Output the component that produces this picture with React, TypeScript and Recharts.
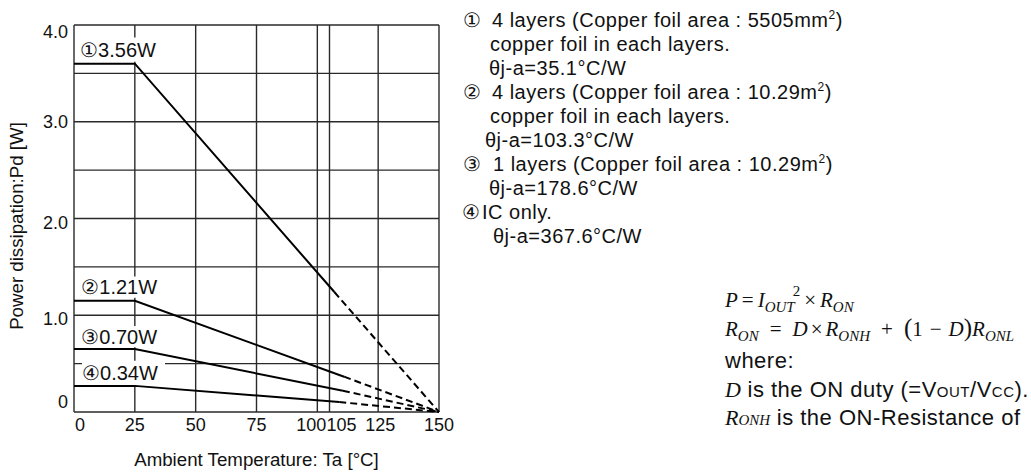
import React from "react";
import {
  LineChart,
  Line,
  XAxis,
  YAxis,
  CartesianGrid,
  ReferenceArea,
} from "recharts";

const taTicks = [0, 25, 50, 75, 100, 105, 125, 150];
const pdTicks = [0, 0.5, 1, 1.5, 2, 2.5, 3, 3.5, 4];
const pdLevels = [3.6, 1.15, 0.65, 0.27];
const kneeTa = 25;
const solidEndTa = [107, 111, 110.5, 109];
const solidEndPd = [1.24, 0.365, 0.22, 0.103];
const zeroTa = 150;
const powerLabels = ["\u24603.56W", "\u24611.21W", "\u24620.70W", "\u24630.34W"];
// white label boxes in data units [x1, x2, y1, y2]
const labelBoxes = [
  [2.5, 33, 3.62, 3.87],
  [3, 34, 1.18, 1.4],
  [3, 34, 0.67, 0.89],
  [3.3, 37.4, 0.28, 0.53],
];

const solidData = pdLevels.map((pd, i) => [
  { ta: 0, pd },
  { ta: kneeTa, pd },
  { ta: solidEndTa[i], pd: solidEndPd[i] },
]);
const dashedData = pdLevels.map((_, i) => [
  { ta: solidEndTa[i], pd: solidEndPd[i] },
  { ta: zeroTa, pd: 0 },
]);

const SANS = "'Liberation Sans', Arial, Helvetica, sans-serif";
const SERIF = "'Liberation Serif', 'Times New Roman', serif";

const xShift: Record<number, number> = { 0: 6, 100: -6, 105: 12, 125: 2 };
const yShift: Record<number, number> = { 4: 7, 3: 0, 2: 4, 1: 4, 0: -10 };

function XTick({ x, y, payload }: any) {
  const v = payload.value as number;
  return (
    <text
      x={x + (xShift[v] ?? 0)}
      y={y + 13}
      textAnchor="middle"
      dominantBaseline="central"
      fontSize={18}
      fontFamily={SANS}
      fill="#111"
    >
      {v}
    </text>
  );
}

function YTick({ x, y, payload }: any) {
  const v = payload.value as number;
  if (v % 1 !== 0) return null;
  return (
    <text
      x={x - 6}
      y={y + (yShift[v] ?? 0)}
      textAnchor="end"
      dominantBaseline="central"
      fontSize={18}
      fontFamily={SANS}
      fill="#111"
    >
      {v === 0 ? "0" : v.toFixed(1)}
    </text>
  );
}

const noteStyle: React.CSSProperties = {
  position: "absolute",
  fontFamily: SANS,
  fontSize: 20,
  letterSpacing: 0.5,
  lineHeight: "24px",
  color: "#111",
  whiteSpace: "nowrap",
};

const sup2 = <span style={{ fontSize: 12, position: "relative", top: -8 }}>2</span>;
const mark = (c: string, w: number) => (
  <span style={{ display: "inline-block", width: w }}>{c}</span>
);

const notes: [number, number, React.ReactNode][] = [
  [463, 8, <>{mark("\u2460", 29)}4 layers (Copper foil area : 5505mm{sup2})</>],
  [490, 32, "copper foil in each layers."],
  [489, 56, "\u03b8j-a=35.1\u00b0C/W"],
  [463, 80, <>{mark("\u2461", 29)}4 layers (Copper foil area : 10.29m{sup2})</>],
  [490, 104, "copper foil in each layers."],
  [485, 128, "\u03b8j-a=103.3\u00b0C/W"],
  [463, 152, <>{mark("\u2462", 30)}1 layers (Copper foil area : 10.29m{sup2})</>],
  [489, 176, "\u03b8j-a=178.6\u00b0C/W"],
  [462, 200, <>{mark("\u2463", 20)}IC only.</>],
  [493, 224, "\u03b8j-a=367.6\u00b0C/W"],
];

const mathLine: React.CSSProperties = {
  position: "absolute",
  left: 725,
  fontFamily: SERIF,
  fontSize: 21,
  whiteSpace: "nowrap",
  color: "#111",
  lineHeight: "26px",
};
const sub: React.CSSProperties = { fontSize: 15, position: "relative", top: 5, fontStyle: "italic" };
const op = (c: string, m: number) => <span style={{ margin: `0 ${m}px` }}>{c}</span>;

const textLine: React.CSSProperties = {
  position: "absolute",
  left: 725,
  fontFamily: SANS,
  fontSize: 22,
  letterSpacing: 0.5,
  lineHeight: "26px",
  color: "#111",
  whiteSpace: "nowrap",
};

export default function App() {
  return (
    <div style={{ position: "absolute", left: 0, top: 0, width: 1031, height: 474, background: "#fff", overflow: "hidden" }}>
      <LineChart
        width={460}
        height={474}
        margin={{ top: 25, right: 21, bottom: 32, left: 14 }}
        style={{ position: "absolute", left: 0, top: 0 }}
      >
        <CartesianGrid stroke="#2a2a2a" strokeWidth={1.4} />
        <XAxis
          dataKey="ta"
          type="number"
          domain={[0, 150]}
          ticks={taTicks}
          interval={0}
          axisLine={false}
          tickLine={false}
          tickSize={0}
          tickMargin={0}
          height={30}
          tick={<XTick />}
          label={{
            value: "Ambient Temperature: Ta [\u00b0C]",
            position: "bottom",
            offset: 11,
            fontSize: 18.7,
            fontFamily: SANS,
            fill: "#111",
          }}
        />
        <YAxis
          dataKey="pd"
          type="number"
          domain={[0, 4]}
          ticks={pdTicks}
          interval={0}
          width={60}
          axisLine={false}
          tickLine={false}
          tickSize={0}
          tickMargin={0}
          tick={<YTick />}
          label={{
            content: () => (
              <text
                x={16}
                y={226}
                transform="rotate(-90 16 226)"
                textAnchor="middle"
                dominantBaseline="central"
                fontSize={18.7}
                fontFamily={SANS}
                fill="#111"
              >
                Power dissipation:Pd [W]
              </text>
            ),
          }}
        />
        {labelBoxes.map((b, i) => (
          <ReferenceArea
            key={"box" + i}
            x1={b[0]}
            x2={b[1]}
            y1={b[2]}
            y2={b[3]}
            fill="#fff"
            fillOpacity={1}
            stroke="none"
            label={{
              value: powerLabels[i],
              position: "insideLeft",
              offset: 0,
              fontSize: 20,
              fontFamily: SANS,
              fill: "#111",
            }}
          />
        ))}
        {solidData.map((d, i) => (
          <Line
            key={"s" + i}
            data={d}
            dataKey="pd"
            type="linear"
            stroke="#000"
            strokeWidth={2}
            dot={false}
            activeDot={false}
            isAnimationActive={false}
          />
        ))}
        {dashedData.map((d, i) => (
          <Line
            key={"d" + i}
            data={d}
            dataKey="pd"
            type="linear"
            stroke="#000"
            strokeWidth={2}
            strokeDasharray="7 4"
            dot={false}
            activeDot={false}
            isAnimationActive={false}
          />
        ))}
      </LineChart>

      {notes.map(([left, top, content], i) => (
        <div key={i} style={{ ...noteStyle, left, top }}>
          {content}
        </div>
      ))}

      <div style={{ ...mathLine, top: 287 }}>
        <i>P</i>
        {op("=", 4)}
        <i>I</i>
        <span style={sub}>OUT</span>
        <span style={{ fontSize: 15, position: "relative", top: -11, marginLeft: -2 }}>2</span>
        {op("\u00d7", 4)}
        <i>R</i>
        <span style={sub}>ON</span>
      </div>
      <div style={{ ...mathLine, top: 315 }}>
        <i>R</i>
        <span style={sub}>ON</span>
        {op("=", 11)}
        <i>D</i>
        {op("\u00d7", 3)}
        <i>R</i>
        <span style={sub}>ONH</span>
        {op("+", 11)}
        <span style={{ fontSize: 25 }}>(</span>1{op("\u2212", 7)}<i>D</i>
        <span style={{ fontSize: 25 }}>)</span>
        <i>R</i>
        <span style={sub}>ONL</span>
      </div>
      <div style={{ ...textLine, top: 348 }}>where:</div>
      <div style={{ ...textLine, top: 377 }}>
        <i style={{ fontFamily: SERIF, fontSize: 22, letterSpacing: 0 }}>D</i> is the ON duty (=V
        <span style={{ fontSize: 15 }}>OUT</span>/V<span style={{ fontSize: 15 }}>CC</span>).
      </div>
      <div style={{ ...textLine, top: 405 }}>
        <i style={{ fontFamily: SERIF, fontSize: 22, letterSpacing: 0 }}>R</i>
        <i style={{ fontFamily: SERIF, fontSize: 15, letterSpacing: 0 }}>ONH</i> is the ON-Resistance of
      </div>
    </div>
  );
}
